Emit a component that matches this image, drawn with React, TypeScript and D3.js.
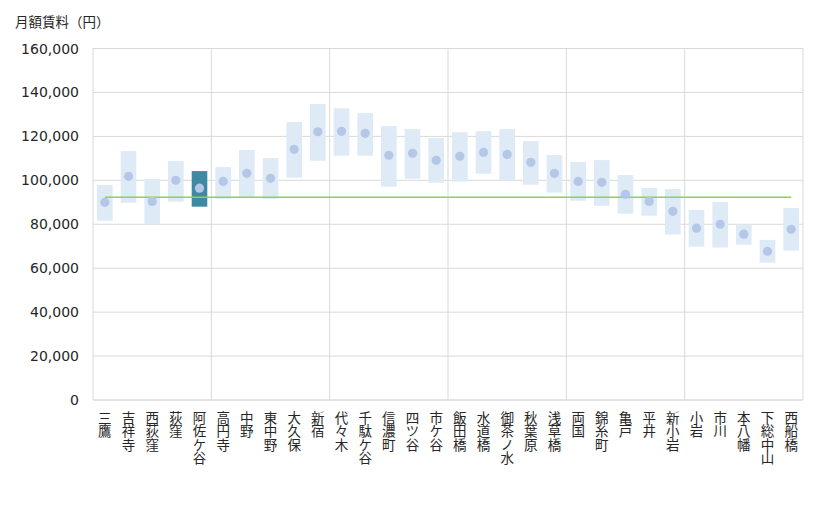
import React from "react";
import * as d3 from "d3";

const stations = [
  "三鷹", "吉祥寺", "西荻窪", "荻窪", "阿佐ケ谷", "高円寺", "中野", "東中野", "大久保", "新宿",
  "代々木", "千駄ケ谷", "信濃町", "四ツ谷", "市ケ谷", "飯田橋", "水道橋", "御茶ノ水", "秋葉原", "浅草橋",
  "両国", "錦糸町", "亀戸", "平井", "新小岩", "小岩", "市川", "本八幡", "下総中山", "西船橋",
];
const lowRent = [
  81600, 89800, 80000, 90300, 88000, 91600, 92300, 91600, 101200, 108900,
  111200, 111200, 97100, 100700, 98900, 99400, 103000, 100000, 98000, 94400,
  90700, 88400, 84800, 83900, 75300, 69800, 69400, 70700, 62500, 68000,
];
const highRent = [
  97900, 113300, 100600, 108800, 104200, 106000, 113800, 110100, 126500, 134700,
  132800, 130600, 124700, 123300, 119200, 121900, 122400, 123300, 117900, 111500,
  108300, 109200, 102400, 96500, 96000, 86500, 90100, 79800, 72900, 87400,
];
const avgRent = [
  90000, 101800, 90400, 100000, 96400, 99500, 103200, 100900, 114100, 122100,
  122300, 121400, 111400, 112300, 109100, 110900, 112700, 111800, 108200, 103200,
  99500, 99100, 93600, 90400, 85900, 78200, 80000, 75500, 67700, 77700,
];
const yTicks = [0, 20000, 40000, 60000, 80000, 100000, 120000, 140000, 160000];
const highlighted = "阿佐ケ谷";
const referenceRent = 92300;

const W = 820;
const H = 510;
const left = 93;
const right = 803;
const top = 48.5;
const bottom = 400;

export default function App() {
  const x = d3.scaleBand<string>().domain(stations).range([left, right]).padding(0);
  const y = d3.scaleLinear().domain([0, 160000]).range([bottom, top]);
  const bw = x.bandwidth();
  const boxW = bw * 0.66;
  const fmt = d3.format(",");
  const cx = (s: string) => (x(s) || 0) + bw / 2;

  const vLines = d3.range(0, stations.length + 1, 5).map((i) =>
    i < stations.length ? x(stations[i]) || 0 : right
  );

  return (
    <div style={{ position: "absolute", left: 0, top: 0 }}>
      <svg width={W} height={H} style={{ display: "block", fontFamily: "'DejaVu Sans', 'Noto Sans CJK JP', sans-serif" }}>
        <rect width={W} height={H} fill="#fff" />
        <text x={15} y={27} fontSize={13.5} fill="#262626" fontFamily="'Noto Sans CJK JP', sans-serif">
          月額賃料（円）
        </text>

        {yTicks.map((t) => (
          <g key={t}>
            <line x1={left} x2={right} y1={y(t)} y2={y(t)} stroke={t === 0 ? "#c8c8c8" : "#d9d9d9"} strokeWidth={1} />
            <text x={79} y={y(t)} dy="0.36em" textAnchor="end" fontSize={14} fill="#262626">
              {fmt(t)}
            </text>
          </g>
        ))}
        {vLines.map((vx, i) => (
          <line key={i} x1={vx} x2={vx} y1={top} y2={bottom} stroke="#d9d9d9" strokeWidth={1} />
        ))}

        {stations.map((s, i) => {
          const hl = s === highlighted;
          return (
            <g key={s}>
              <rect
                x={cx(s) - boxW / 2}
                y={y(highRent[i])}
                width={boxW}
                height={y(lowRent[i]) - y(highRent[i])}
                fill={hl ? "#3f8aa3" : "#deeaf6"}
              />
            </g>
          );
        })}

        <line
          x1={cx(stations[0])}
          x2={cx(stations[stations.length - 1])}
          y1={y(referenceRent)}
          y2={y(referenceRent)}
          stroke="#92d050"
          strokeWidth={1.3}
        />

        {stations.map((s, i) => (
          <circle key={s} cx={cx(s)} cy={y(avgRent[i])} r={4.6} fill="#b4c7e7" />
        ))}

        {stations.map((s) => (
          <text
            key={s}
            x={cx(s)}
            y={411}
            fontSize={13.5}
            fill="#262626"
            fontFamily="'Noto Sans CJK JP', sans-serif"
            style={{ writingMode: "vertical-rl" }}
          >
            {s}
          </text>
        ))}
      </svg>
    </div>
  );
}
